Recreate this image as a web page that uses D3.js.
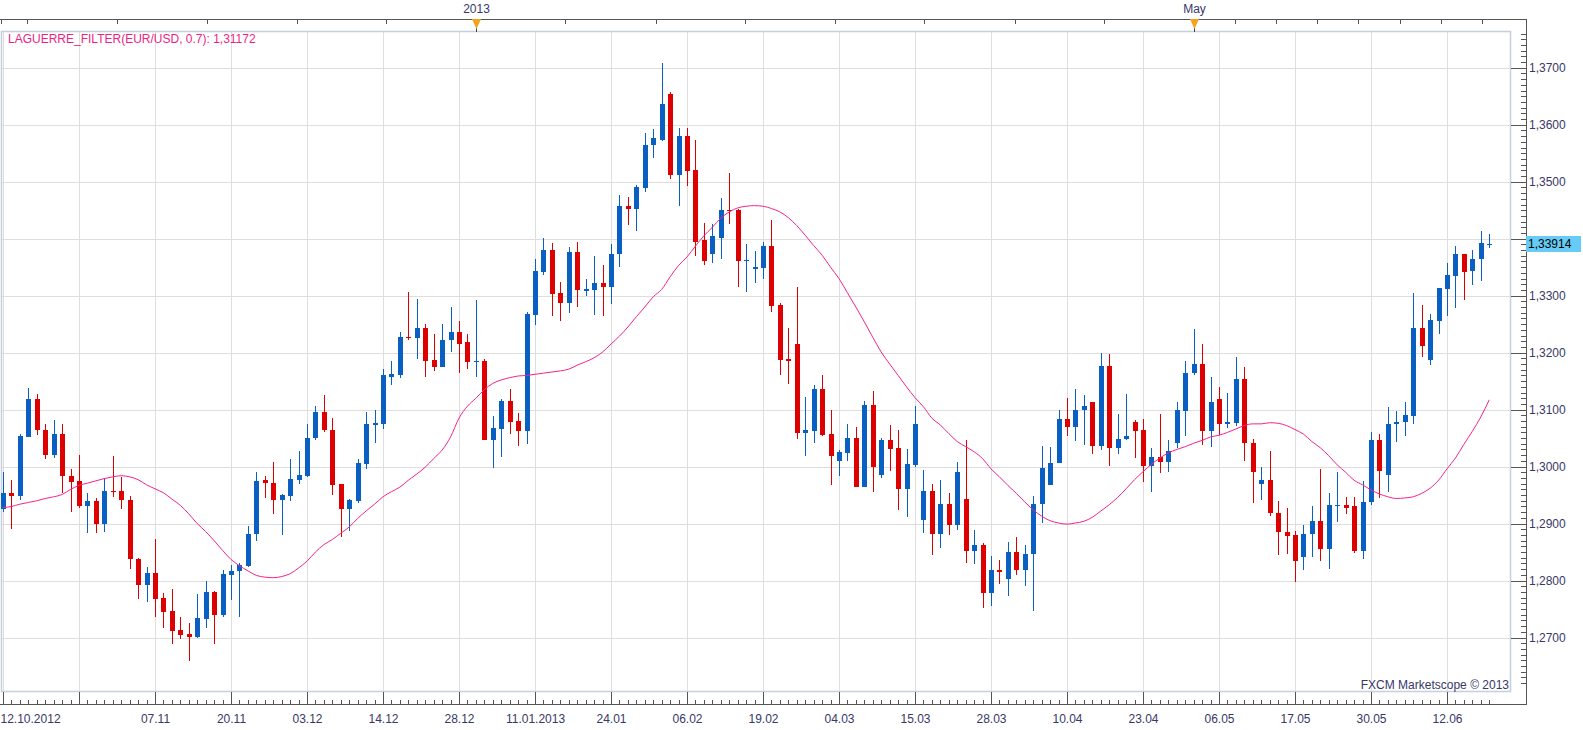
<!DOCTYPE html>
<html>
<head>
<meta charset="utf-8">
<script src="https://cdn.jsdelivr.net/npm/d3@7/dist/d3.min.js"></script>
<style>
    body { margin: 0; background: #fff; }
    svg text { font-family: "Liberation Sans", Arial, sans-serif; font-size: 12px; fill: #383868; }
</style>
</head>
<body>
<div id="container"></div>
<script>
// EUR/USD daily candles, 12.10.2012 .. 19.06.2013
var opens = [1.2925,1.2953,1.2948,1.3052,1.3118,1.3065,1.3020,1.3058,1.2984,1.2974,1.2930,1.2940,1.2900,1.2958,1.2958,1.2942,1.2838,1.2793,1.2813,1.2769,
    1.2746,1.2713,1.2706,1.2701,1.2733,1.2780,1.2740,1.2810,1.2816,1.2826,1.2881,1.2976,1.2972,1.2942,1.2948,1.2977,1.2983,1.3050,1.3095,1.3065,
    1.2969,1.2926,1.2940,1.3004,1.3073,1.3074,1.3158,1.3160,1.3227,1.3225,1.3243,1.3187,1.3174,1.3222,1.3236,1.3218,1.3184,1.3185,1.3046,1.3066,
    1.3116,1.3080,1.3062,1.3266,1.3342,1.3380,1.3304,1.3287,1.3376,1.3309,1.3310,1.3322,1.3315,1.3373,1.3457,1.3452,1.3489,1.3564,1.3574,1.3654,
    1.3511,1.3581,1.3520,1.3397,1.3374,1.3402,1.3451,1.3451,1.3360,1.3346,1.3348,1.3388,1.3284,1.3188,1.3216,1.3059,1.3063,1.3137,1.3057,1.3010,
    1.3024,1.3050,1.2964,1.3108,1.2985,1.3046,1.3032,1.2961,1.3002,1.2906,1.2957,1.2882,1.2934,1.2898,1.2943,1.2852,1.2862,1.2778,1.2818,1.2803,
    1.2850,1.2818,1.2846,1.2934,1.2967,1.3006,1.3083,1.3069,1.3099,1.3113,1.3036,1.3176,1.3032,1.3048,1.3079,1.3065,1.3001,1.3017,1.3008,1.3041,
    1.3097,1.3164,1.3180,1.3062,1.3118,1.3075,1.3076,1.3153,1.3042,1.2969,1.2976,1.2919,1.2886,1.2880,1.2841,1.2881,1.2905,1.2856,1.2932,1.2933,
    1.2930,1.2852,1.2937,1.3047,1.2986,1.3074,1.3078,1.3088,1.3244,1.3187,1.3255,1.3312,1.3334,1.3374,1.3343,1.3364,1.3391];
var highs = [1.2990,1.2977,1.3058,1.3138,1.3127,1.3074,1.3081,1.3074,1.2995,1.3021,1.2954,1.2944,1.2980,1.3018,1.2981,1.2949,1.2840,1.2824,1.2873,1.2778,
    1.2786,1.2736,1.2725,1.2776,1.2799,1.2782,1.2819,1.2827,1.2831,1.2896,1.2990,1.2983,1.3008,1.2952,1.3013,1.3027,1.3074,1.3106,1.3125,1.3085,
    1.2969,1.2943,1.3013,1.3095,1.3099,1.3171,1.3185,1.3236,1.3306,1.3294,1.3250,1.3232,1.3251,1.3281,1.3255,1.3232,1.3292,1.3188,1.3088,1.3118,
    1.3137,1.3094,1.3271,1.3364,1.3402,1.3392,1.3324,1.3385,1.3395,1.3330,1.3369,1.3353,1.3390,1.3476,1.3474,1.3495,1.3585,1.3592,1.3708,1.3657,
    1.3595,1.3594,1.3574,1.3427,1.3425,1.3472,1.3516,1.3453,1.3390,1.3378,1.3394,1.3432,1.3287,1.3243,1.3316,1.3122,1.3144,1.3160,1.3099,1.3029,
    1.3074,1.3070,1.3116,1.3133,1.3051,1.3073,1.3064,1.3030,1.3106,1.2994,1.2969,1.2976,1.2953,1.3008,1.3046,1.2888,1.2865,1.2843,1.2836,1.2867,
    1.2876,1.2863,1.2948,1.3037,1.3035,1.3100,1.3120,1.3136,1.3125,1.3113,1.3199,1.3197,1.3093,1.3127,1.3081,1.3083,1.3032,1.3092,1.3046,1.3114,
    1.3185,1.3241,1.3216,1.3158,1.3139,1.3130,1.3192,1.3174,1.3049,1.2999,1.3027,1.2940,1.2928,1.2887,1.2898,1.2931,1.2996,1.2954,1.2991,1.2947,
    1.2947,1.2975,1.3060,1.3058,1.3105,1.3098,1.3114,1.3305,1.3283,1.3267,1.3314,1.3357,1.3388,1.3374,1.3380,1.3413,1.3409];
var lows = [1.2921,1.2890,1.2942,1.3052,1.3055,1.3013,1.3015,1.2953,1.2920,1.2927,1.2883,1.2884,1.2886,1.2946,1.2925,1.2821,1.2767,1.2763,1.2736,1.2717,
    1.2689,1.2698,1.2659,1.2699,1.2716,1.2689,1.2736,1.2765,1.2736,1.2823,1.2869,1.2944,1.2917,1.2880,1.2940,1.2970,1.2982,1.3046,1.3060,1.2950,
    1.2877,1.2887,1.2936,1.2995,1.3042,1.3066,1.3144,1.3155,1.3222,1.3188,1.3158,1.3167,1.3174,1.3201,1.3165,1.3172,1.3157,1.3046,1.2997,1.3016,
    1.3057,1.3037,1.3040,1.3248,1.3336,1.3264,1.3256,1.3270,1.3280,1.3299,1.3266,1.3264,1.3285,1.3350,1.3424,1.3413,1.3482,1.3541,1.3571,1.3504,
    1.3457,1.3492,1.3369,1.3353,1.3357,1.3364,1.3425,1.3315,1.3306,1.3322,1.3329,1.3271,1.3161,1.3145,1.3049,1.3019,1.3042,1.3054,1.2968,1.2984,
    1.3010,1.2964,1.2964,1.2956,1.2980,1.2992,1.2924,1.2912,1.2999,1.2884,1.2845,1.2857,1.2880,1.2889,1.2831,1.2829,1.2752,1.2756,1.2794,1.2773,
    1.2810,1.2790,1.2746,1.2901,1.2967,1.3006,1.3054,1.3045,1.3038,1.3022,1.3029,1.3001,1.3022,1.3047,1.3015,1.2973,1.2955,1.2989,1.2990,1.3032,
    1.3054,1.3161,1.3038,1.3034,1.3055,1.3068,1.3072,1.3010,1.2936,1.2941,1.2913,1.2844,1.2846,1.2797,1.2819,1.2841,1.2834,1.2821,1.2903,1.2916,
    1.2849,1.2837,1.2933,1.2945,1.2955,1.3043,1.3053,1.3074,1.3192,1.3178,1.3232,1.3265,1.3278,1.3293,1.3318,1.3325,1.3383];
var closes = [1.2953,1.2948,1.3053,1.3118,1.3064,1.3020,1.3058,1.2983,1.2973,1.2930,1.2940,1.2900,1.2958,1.2957,1.2941,1.2837,1.2793,1.2813,1.2768,1.2745,
    1.2712,1.2705,1.2701,1.2734,1.2780,1.2740,1.2812,1.2817,1.2827,1.2882,1.2975,1.2971,1.2942,1.2950,1.2978,1.2985,1.3051,1.3095,1.3064,1.2968,
    1.2926,1.2941,1.3006,1.3074,1.3076,1.3160,1.3162,1.3227,1.3225,1.3243,1.3185,1.3174,1.3223,1.3236,1.3216,1.3183,1.3185,1.3046,1.3067,1.3116,
    1.3078,1.3062,1.3267,1.3343,1.3380,1.3303,1.3287,1.3376,1.3310,1.3311,1.3322,1.3315,1.3374,1.3457,1.3452,1.3490,1.3565,1.3576,1.3637,1.3511,
    1.3581,1.3518,1.3395,1.3360,1.3404,1.3451,1.3450,1.3360,1.3362,1.3350,1.3388,1.3282,1.3187,1.3185,1.3059,1.3064,1.3137,1.3056,1.3019,1.3025,
    1.3050,1.2964,1.3108,1.2999,1.3046,1.3031,1.2961,1.3004,1.3074,1.2957,1.2882,1.2934,1.2898,1.2990,1.2852,1.2862,1.2778,1.2818,1.2815,1.2850,
    1.2819,1.2847,1.2935,1.2997,1.3007,1.3083,1.3069,1.3100,1.3107,1.3036,1.3176,1.3032,1.3049,1.3053,1.3063,1.3001,1.3017,1.3008,1.3028,1.3099,
    1.3165,1.3180,1.3062,1.3114,1.3075,1.3078,1.3153,1.3041,1.2990,1.2976,1.2918,1.2885,1.2879,1.2834,1.2882,1.2905,1.2856,1.2933,1.2933,1.2928,
    1.2852,1.2938,1.3047,1.2993,1.3075,1.3079,1.3090,1.3244,1.3211,1.3257,1.3313,1.3336,1.3374,1.3341,1.3365,1.3392,1.33914];
// LAGUERRE_FILTER(EUR/USD, 0.7) values
var laguerre = [1.2928,1.2930,1.2934,1.2937,1.2940,1.2944,1.2947,1.2951,1.2960,1.2967,1.2971,1.2975,1.2979,1.2982,1.2984,1.2982,1.2977,1.2968,1.2961,1.2954,
    1.2943,1.2932,1.2917,1.2900,1.2886,1.2870,1.2853,1.2837,1.2826,1.2817,1.2809,1.2806,1.2805,1.2807,1.2812,1.2822,1.2834,1.2850,1.2863,1.2872,
    1.2883,1.2894,1.2909,1.2922,1.2934,1.2947,1.2956,1.2964,1.2976,1.2987,1.2999,1.3014,1.3029,1.3052,1.3085,1.3106,1.3120,1.3135,1.3146,1.3152,
    1.3156,1.3159,1.3160,1.3162,1.3164,1.3166,1.3168,1.3171,1.3178,1.3184,1.3191,1.3201,1.3215,1.3229,1.3245,1.3263,1.3280,1.3298,1.3311,1.3333,
    1.3353,1.3368,1.3387,1.3405,1.3420,1.3436,1.3447,1.3454,1.3457,1.3458,1.3457,1.3453,1.3447,1.3437,1.3423,1.3406,1.3388,1.3371,1.3350,1.3330,
    1.3305,1.3280,1.3254,1.3227,1.3201,1.3180,1.3160,1.3140,1.3121,1.3105,1.3085,1.3073,1.3058,1.3044,1.3035,1.3026,1.3014,1.2996,1.2982,1.2967,
    1.2953,1.2938,1.2924,1.2913,1.2905,1.2901,1.2899,1.2901,1.2904,1.2911,1.2922,1.2933,1.2946,1.2961,1.2977,1.2991,1.3004,1.3015,1.3024,1.3030,
    1.3035,1.3041,1.3046,1.3052,1.3055,1.3060,1.3066,1.3072,1.3075,1.3075,1.3077,1.3076,1.3072,1.3065,1.3057,1.3044,1.3033,1.3019,1.3003,1.2990,
    1.2976,1.2968,1.2959,1.2952,1.2947,1.2944,1.2945,1.2947,1.2953,1.2962,1.2976,1.2996,1.3015,1.3039,1.3062,1.3087,1.31172];

// bottom axis: one label every 9 candles
var xTickLabels = ["12.10.2012","","07.11","20.11","03.12","14.12","28.12","11.01.2013","24.01","06.02",
    "19.02","04.03","15.03","28.03","10.04","23.04","06.05","17.05","30.05","12.06"];
// top axis ticks (candle index units) and the two marked dates
var topTicks = [2.9,13.5,24.1,34.8,45.4,56,66.6,77.3,87.9,98.5,109.1,119.8,130.4,141,145.9,150.8,155.6,160.5,165.4,170.3,175.2];
var topMarks = [{i: 56, label: "2013"}, {i: 141, label: "May"}];
var priceLevels = d3.range(127, 138).map(function(v) { return v / 100; });
var lastPrice = closes[closes.length - 1];
var filterName = "LAGUERRE_FILTER(EUR/USD, 0.7)";

var width = 1583, height = 730;
var plot = {left: 1, right: 1511, top: 31, bottom: 692};
var axisRightX = 1526, axisBottomY = 704, axisTopY = 19;

var n = opens.length;
var candles = opens.map(function(o, i) { return {i: i, o: o, h: highs[i], l: lows[i], c: closes[i]}; });

var x = d3.scaleLinear().domain([0, 171]).range([3, 1447]);
var y = d3.scaleLinear().domain([1.27, 1.37]).range([637.5, 67.8]);

var fmt = function(d) { return d3.format(".4f")(d).replace(".", ","); };
var ly = y(lastPrice);

var svg = d3.select("#container").append("svg")
    .attr("width", width).attr("height", height)
    .style("display", "block");

svg.append("defs").append("clipPath").attr("id", "plotclip")
    .append("rect")
    .attr("x", plot.left).attr("y", plot.top)
    .attr("width", plot.right - plot.left).attr("height", plot.bottom - plot.top);

// grid
var gridIdx = xTickLabels.map(function(d, k) { return k * 9; });
var gx = svg.append("g").attr("transform", "translate(0," + plot.top + ")")
    .call(d3.axisBottom(x).tickValues(gridIdx).tickSize(plot.bottom - plot.top).tickFormat(""));
var gy = svg.append("g").attr("transform", "translate(" + plot.left + ",0)")
    .call(d3.axisRight(y).tickValues(priceLevels).tickSize(plot.right - plot.left).tickFormat(""));
[gx, gy].forEach(function(g) {
    g.select(".domain").remove();
    g.selectAll("line").attr("stroke", "#dedede").attr("shape-rendering", "crispEdges");
});

// plot frame
svg.append("rect")
    .attr("x", plot.left + 0.5).attr("y", plot.top + 0.5)
    .attr("width", plot.right - plot.left - 1).attr("height", plot.bottom - plot.top - 1)
    .attr("fill", "none").attr("stroke", "#c8d0dc").attr("stroke-width", 1.6);

// candles
var cg = svg.append("g").attr("clip-path", "url(#plotclip)").attr("shape-rendering", "crispEdges");
var cx = function(d) { return Math.round(x(d.i)); };
var col = function(d) { return d.c >= d.o ? "#0a5fc2" : "#dc0000"; };

cg.selectAll(".wick").data(candles).enter().append("line")
    .attr("class", "wick")
    .attr("x1", function(d) { return cx(d) + 0.5; })
    .attr("x2", function(d) { return cx(d) + 0.5; })
    .attr("y1", function(d) { return y(d.h); })
    .attr("y2", function(d) { return y(d.l); })
    .attr("stroke", col).attr("stroke-width", 1);

cg.selectAll(".body").data(candles).enter().append("rect")
    .attr("class", "body")
    .attr("x", function(d) { return cx(d) - 2; })
    .attr("width", 5)
    .attr("y", function(d) { return y(Math.max(d.o, d.c)); })
    .attr("height", function(d) { return Math.max(1, Math.abs(y(d.o) - y(d.c))); })
    .attr("fill", col);

// laguerre filter line
var lag = d3.line()
    .x(function(d, i) { return x(i); })
    .y(function(d) { return y(d); })
    .curve(d3.curveMonotoneX);
svg.append("path")
    .datum(laguerre)
    .attr("clip-path", "url(#plotclip)")
    .attr("d", lag)
    .attr("fill", "none")
    .attr("stroke", "#f4238c")
    .attr("stroke-width", 1);

svg.append("text")
    .attr("x", 8).attr("y", 43)
    .style("fill", "#ee1e84")
    .text(filterName + ": " + d3.format(".5f")(laguerre[laguerre.length - 1]).replace(".", ","));

// frame lines of the axes
svg.append("path")
    .attr("d", "M0," + (axisTopY + 0.5) + "H" + (axisRightX + 0.5) + "V" + (axisBottomY + 0.5) + "H0")
    .attr("fill", "none").attr("stroke", "#555").attr("shape-rendering", "crispEdges");

// right price axis
var minorVals = d3.range(1262, 1377).map(function(v) { return v / 1000; });
var ra1 = svg.append("g").attr("transform", "translate(" + axisRightX + ",0)")
    .call(d3.axisLeft(y).tickValues(minorVals).tickSize(5).tickFormat(""));
var ra2 = svg.append("g").attr("transform", "translate(" + axisRightX + ",0)")
    .call(d3.axisLeft(y).tickValues(priceLevels).tickSize(axisRightX - plot.right).tickFormat(""));
// labels hidden behind the last-price tag are left out, as in the original
var ra3 = svg.append("g").attr("transform", "translate(" + axisRightX + ",0)")
    .call(d3.axisRight(y)
        .tickValues(priceLevels.filter(function(p) { return Math.abs(y(p) - ly) > 13; }))
        .tickSize(0).tickPadding(3).tickFormat(fmt));
[ra1, ra2, ra3].forEach(function(g) {
    g.select(".domain").remove();
    g.selectAll("line").attr("stroke", "#555").attr("shape-rendering", "crispEdges");
    g.selectAll("text").attr("font-family", null).attr("font-size", null).attr("fill", null);
});

// last price tag
svg.append("rect")
    .attr("x", axisRightX).attr("y", Math.round(ly) - 8)
    .attr("width", 55).attr("height", 16)
    .attr("fill", "#66ccf6");
svg.append("text")
    .attr("x", axisRightX + 2).attr("y", ly + 4)
    .style("fill", "#000")
    .text(d3.format(".5f")(lastPrice).replace(".", ","));

// bottom date axis
var ba1 = svg.append("g").attr("transform", "translate(0," + axisBottomY + ")")
    .call(d3.axisTop(x).tickValues(d3.range(0, n)).tickSize(4).tickFormat(""));
var ba2 = svg.append("g").attr("transform", "translate(0," + axisBottomY + ")")
    .call(d3.axisTop(x).tickValues(gridIdx).tickSize(axisBottomY - plot.bottom).tickFormat(""));
var ba3 = svg.append("g").attr("transform", "translate(0," + axisBottomY + ")")
    .call(d3.axisBottom(x).tickValues(gridIdx).tickSize(0).tickPadding(10)
        .tickFormat(function(d, k) { return xTickLabels[k]; }));
[ba1, ba2, ba3].forEach(function(g) {
    g.select(".domain").remove();
    g.selectAll("line").attr("stroke", "#555").attr("shape-rendering", "crispEdges");
    g.selectAll("text").attr("font-family", null).attr("font-size", null).attr("fill", null);
});
ba3.select(".tick text").attr("text-anchor", "start").attr("x", -3);

// top axis with the year / month marks
var ta = svg.append("g").attr("transform", "translate(0," + axisTopY + ")")
    .call(d3.axisBottom(x).tickValues(topTicks).tickSize(5).tickFormat(""));
ta.select(".domain").remove();
ta.selectAll("line").attr("stroke", "#555").attr("shape-rendering", "crispEdges");
svg.append("line").attr("x1", 1.5).attr("x2", 1.5).attr("y1", axisTopY).attr("y2", axisTopY + 5)
    .attr("stroke", "#555");

var marks = svg.selectAll(".mark").data(topMarks).enter().append("g")
    .attr("class", "mark")
    .attr("transform", function(d) { return "translate(" + Math.round(x(d.i)) + ",0)"; });
marks.append("line")
    .attr("x1", 0.5).attr("x2", 0.5).attr("y1", axisTopY).attr("y2", plot.top + 1)
    .attr("stroke", "#444");
marks.append("path")
    .attr("d", "M-4," + axisTopY + "L5," + axisTopY + "L0.5," + (axisTopY + 10) + "Z")
    .attr("fill", "#f5a21c");
marks.append("text")
    .attr("x", 0.5).attr("y", 13)
    .attr("text-anchor", "middle")
    .text(function(d) { return d.label; });

svg.append("text")
    .attr("x", plot.right - 2).attr("y", 689)
    .attr("text-anchor", "end")
    .text("FXCM Marketscope \u00a9 2013");
</script>
</body>
</html>
